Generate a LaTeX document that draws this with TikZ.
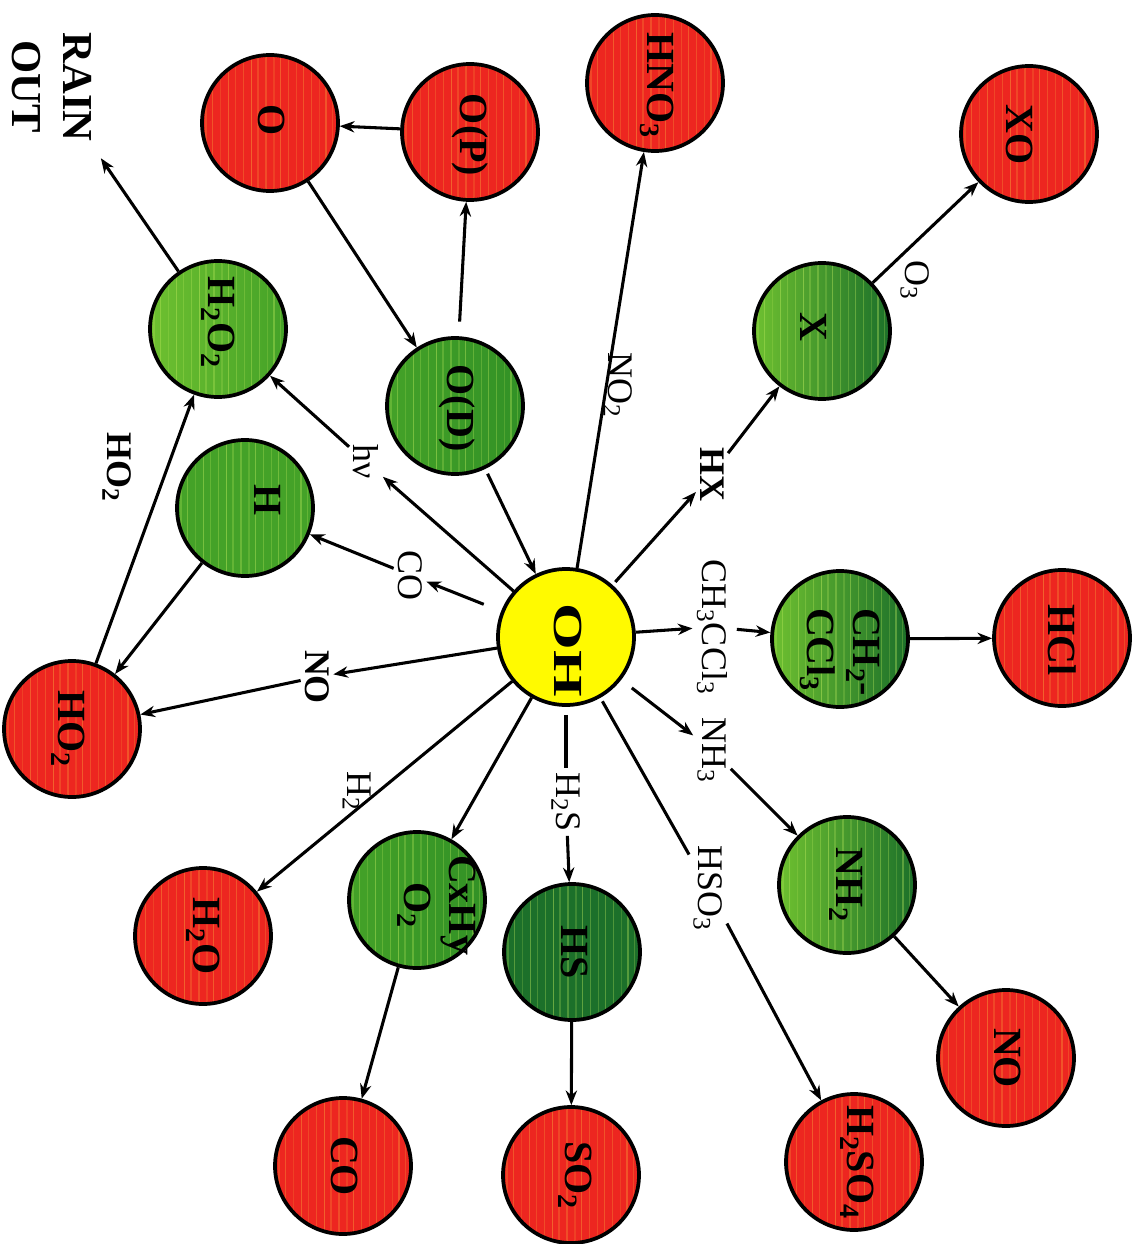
\documentclass[tikz,border=0pt]{standalone}
\usepackage{fontspec}
\usepackage{graphicx}
\setmainfont{Liberation Serif}
\usetikzlibrary{arrows.meta}

\newcommand\chs[1]{\textsubscript{#1}}

\definecolor{redfill}{RGB}{237,38,32}
\definecolor{redstripe}{RGB}{250,170,60}
\definecolor{yellowfill}{RGB}{255,250,0}
\definecolor{gstripe}{RGB}{195,238,95}
\definecolor{glight}{RGB}{110,192,48}
\definecolor{gmid}{RGB}{68,162,40}
\definecolor{gmed}{RGB}{50,145,38}
\definecolor{gdark}{RGB}{28,112,42}

% faint vertical streaks inside a ball
\newcommand\ballstripes[1]{%
  \foreach \d/\o in {-48/.25,-43/.35,-37/.2,-31/.4,-26/.25,-20/.3,-14/.45,-9/.25,-3/.3,
                     3/.2,8/.4,14/.3,20/.25,25/.35,31/.3,37/.2,42/.35,47/.25}{%
    \draw[#1, line width=0.8pt, opacity=\o]
      ([xshift=\d pt]path picture bounding box.south) --
      ([xshift=\d pt]path picture bounding box.north);}}

\begin{document}
\begin{tikzpicture}[x=0.75pt,y=-0.75pt,
  ball/.style={circle, draw=black, line width=2.8pt, minimum size=102pt, inner sep=0pt},
  redball/.style={ball, fill=redfill, path picture={\ballstripes{redstripe}}},
  yball/.style={ball, fill=yellowfill},
  gball/.style 2 args={ball, left color=#1, right color=#2,
                      path picture={\ballstripes{gstripe}}},
  txt/.style={rotate=-90, inner sep=0pt, align=center,
              font=\fontsize{30}{34}\selectfont\bfseries},
  lab/.style={rotate=-90, inner sep=3pt, font=\fontsize{27}{31}\selectfont},
  blab/.style={lab, font=\fontsize{27}{31}\selectfont\bfseries},
  ln/.style={line width=2.3pt},
  arr/.style={ln, -{Stealth[length=11pt,width=8.5pt]}}
]
\useasboundingbox (0,0) rectangle (1140,1244);

% ---- species
\node[redball] (O)     at (270,123)  {};
\node[redball] (OP)    at (470,132)  {};
\node[redball] (HNO3)  at (655,83)   {};
\node[redball] (XO)    at (1029,134) {};
\node[gball={glight}{gdark}] (X) at (822,331) {};
\node[gball={glight}{gmid}]  (H2O2) at (218,329) {};
\node[gball={gmid}{gmed}]    (OD) at (455,406) {};
\node[gball={gmid}{gmid}]    (H)  at (245,508) {};
\node[yball]   (OH)    at (566,637)  {};
\node[gball={glight}{gdark}] (CHC) at (840,639) {};
\node[redball] (HCl)   at (1062,638) {};
\node[redball] (HO2)   at (72,729)   {};
\node[gball={glight}{gdark}] (NH2) at (847,885) {};
\node[redball] (NOr)   at (1006,1058) {};
\node[redball] (H2SO4) at (854,1162) {};
\node[gball={gdark}{gdark}]  (HS) at (572,952) {};
\node[redball] (SO2)   at (571,1175) {};
\node[gball={gmid}{gmed}]    (CxHy) at (417,900) {};
\node[redball] (H2O)   at (203,936)  {};
\node[redball] (COr)   at (343,1166) {};

% ---- names inside the balls
\node[txt] (tO)     at (272,120)  {O};
\node[txt] (tOP)    at (470,135)  {O(P)};
\node[txt] (tHNO3)  at (657,85)   {HNO\chs{3}};
\node[txt] (tXO)    at (1020,135) {XO};
\node[txt] (tX)     at (814,327)  {X};
\node[txt] (tH2O2)  at (218,322)  {H\chs{2}O\chs{2}};
\node[txt] (tOD)    at (457,408)  {O(D)};
\node[txt] (tH)     at (268,500)  {H};
\node[txt, font=\fontsize{31}{35}\selectfont\bfseries] (tOH) at (568,650) {\scalebox{1.45}[1]{OH}};
\node[txt, align=left] (tCHC) at (840,652) {CH\chs{2}-\\CCl\chs{3}};
\node[txt] (tHCl)   at (1062,640) {HCl};
\node[txt] (tHO2)   at (68,729)   {HO\chs{2}};
\node[txt] (tNH2)   at (846,885)  {NH\chs{2}};
\node[txt] (tNOr)   at (1008,1058) {NO};
\node[txt] (tH2SO4) at (857,1162) {H\chs{2}SO\chs{4}};
\node[txt] (tHS)    at (575,952)  {HS};
\node[txt] (tSO2)   at (575,1175) {SO\chs{2}};
\node[txt] (tCxHy)  at (437,905)  {CxHy\\O\chs{2}};
\node[txt] (tH2O)   at (203,936)  {H\chs{2}O};
\node[txt] (tCOr)   at (345,1166) {CO};
\node[txt, font=\fontsize{32}{38}\selectfont\bfseries] (rain) at (52,87) {RAIN\\OUT};

% ---- reagent labels
\node[lab]  (NO2l)  at (618,385) {NO\chs{2}};
\node[blab] (HXl)   at (712,474) {HX};
\node[lab]  (CHl)   at (712,627) {CH\chs{3}CCl\chs{3}};
\node[lab]  (NH3l)  at (712,750) {NH\chs{3}};
\node[lab]  (HSO3l) at (708,888) {HSO\chs{3}};
\node[lab]  (H2Sl)  at (566,802) {H\chs{2}S};
\node[lab]  (H2l)   at (357,791) {H\chs{2}};
\node[blab] (NOl)   at (317,677) {NO};
\node[lab]  (COl)   at (410,575) {CO};
\node[lab]  (hvl)   at (366,462) {hν};
\node[blab] (HO2l)  at (117,467) {HO\chs{2}};
\node[lab]  (O3l)   at (915,280) {O\chs{3}};

% ---- reactions
\draw[arr] (OP) -- (O);
\draw[arr] (O) -- (OD);
\draw[arr, shorten <=11pt] (OD) -- (OP);
\draw[arr, shorten <=4pt] (OD) -- (OH);
\draw[arr] (OH) -- (HNO3);
\draw[arr, shorten <=3pt] (OH) -- (HXl);
\draw[arr] (HXl) -- (X);
\draw[arr] (OH) -- (CHl);
\draw[arr, shorten <=4pt] (CHl) -- (CHC);
\draw[arr, shorten <=10pt] (OH) -- (NH3l);
\draw[arr] (NH3l) -- (NH2);
\draw[ln, shorten <=3pt] (OH) -- (HSO3l);
\draw[arr] (HSO3l) -- (H2SO4);
\draw[ln, shorten <=6pt] (OH) -- (H2Sl);
\draw[arr] (H2Sl) -- (HS);
\draw[arr] (OH) -- (CxHy);
\draw[arr] (OH) -- (H2O);
\draw[arr] (OH) -- (NOl);
\draw[arr] (NOl) -- (HO2);
\draw[arr, shorten <=14pt] (OH) -- (COl);
\draw[arr] (COl) -- (H);
\draw[arr] (OH) -- (hvl);
\draw[arr] (hvl) -- (H2O2);
\draw[arr] (H) -- (HO2);
\draw[arr] (HO2) -- (H2O2);
\draw[arr, shorten >=15pt] (H2O2) -- (rain);
\draw[arr] (X) -- (XO);
\draw[arr] (CHC) -- (HCl);
\draw[arr] (NH2) -- (NOr);
\draw[arr] (HS) -- (SO2);
\draw[arr] (CxHy) -- (COr);
\end{tikzpicture}
\end{document}
